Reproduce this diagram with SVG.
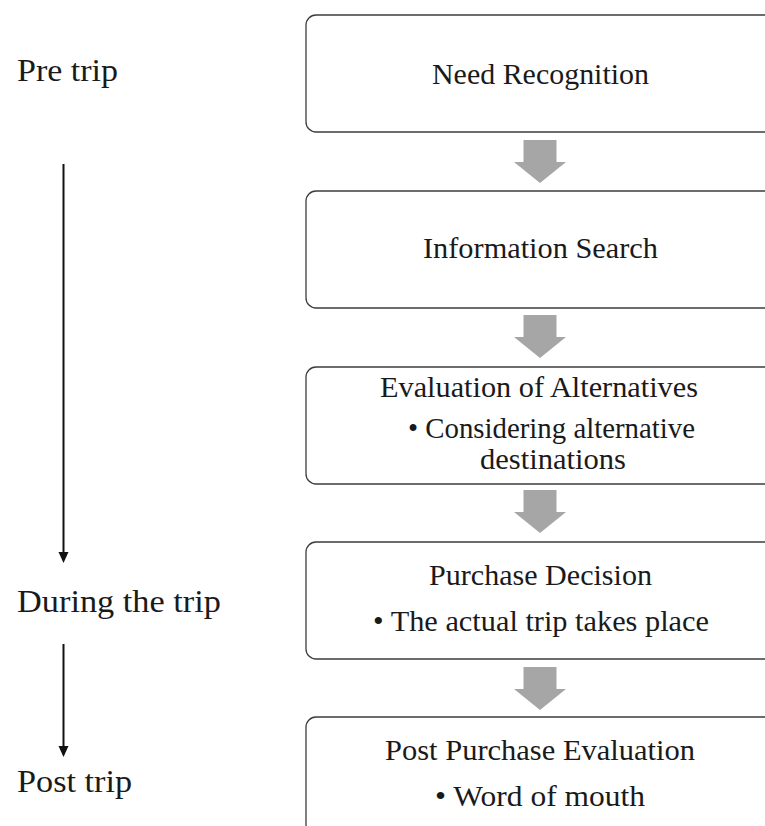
<svg xmlns="http://www.w3.org/2000/svg" width="765" height="826" viewBox="0 0 765 826">
  <style>
    .box { fill: #ffffff; stroke: #3c3c3c; stroke-width: 1.3; }
    .step { fill: #a6a6a6; }
    .txt { font-family: "Liberation Serif", "Times New Roman", serif; font-size: 29px; fill: #1a1a1a; }
    .phase { font-family: "Liberation Serif", "Times New Roman", serif; font-size: 32px; fill: #1a1a1a; }
    .time { stroke: #111111; stroke-width: 2; fill: none; }
    .timehead { fill: #111111; }
  </style>
  <defs>
    <!-- block arrow between stages, tip at (0,0) -->
    <path id="blockArrow" d="M -16.5 -43 H 16.5 V -21 H 26 L 0 0 L -26 -21 H -16.5 Z"/>
  </defs>

  <rect width="765" height="826" fill="#ffffff"/>

  <!-- phase labels on the left -->
  <g id="phase-pre">
    <text class="phase" x="17" y="81" textLength="101" lengthAdjust="spacingAndGlyphs">Pre trip</text>
  </g>
  <g id="phase-during">
    <text class="phase" x="17" y="612" textLength="204" lengthAdjust="spacingAndGlyphs">During the trip</text>
  </g>
  <g id="phase-post">
    <text class="phase" x="17" y="792" textLength="115" lengthAdjust="spacingAndGlyphs">Post trip</text>
  </g>

  <!-- stage boxes (run off the right and bottom edge) -->
  <g id="need-recognition">
    <rect class="box" x="306" y="15" width="500" height="117" rx="10"/>
    <text class="txt" x="432" y="84" textLength="217" lengthAdjust="spacingAndGlyphs">Need Recognition</text>
  </g>
  <g id="information-search">
    <rect class="box" x="306" y="191" width="500" height="117" rx="10"/>
    <text class="txt" x="423" y="258" textLength="235" lengthAdjust="spacingAndGlyphs">Information Search</text>
  </g>
  <g id="evaluation-of-alternatives">
    <rect class="box" x="306" y="367" width="500" height="117" rx="10"/>
    <text class="txt" x="380" y="397" textLength="318" lengthAdjust="spacingAndGlyphs">Evaluation of Alternatives</text>
    <text class="txt" x="408" y="438" textLength="287" lengthAdjust="spacingAndGlyphs">• Considering alternative</text>
    <text class="txt" x="480" y="469" textLength="146" lengthAdjust="spacingAndGlyphs">destinations</text>
  </g>
  <g id="purchase-decision">
    <rect class="box" x="306" y="542" width="500" height="117" rx="10"/>
    <text class="txt" x="429" y="585" textLength="223" lengthAdjust="spacingAndGlyphs">Purchase Decision</text>
    <text class="txt" x="373" y="631" textLength="336" lengthAdjust="spacingAndGlyphs">• The actual trip takes place</text>
  </g>
  <g id="post-purchase-evaluation">
    <rect class="box" x="306" y="717" width="500" height="160" rx="10"/>
    <text class="txt" x="385" y="760" textLength="310" lengthAdjust="spacingAndGlyphs">Post Purchase Evaluation</text>
    <text class="txt" x="435" y="806" textLength="210" lengthAdjust="spacingAndGlyphs">• Word of mouth</text>
  </g>

  <!-- connectors -->
  <g id="connectors">
    <use href="#blockArrow" class="step" x="540" y="183"/>
    <use href="#blockArrow" class="step" x="540" y="358"/>
    <use href="#blockArrow" class="step" x="540" y="533"/>
    <use href="#blockArrow" class="step" x="540" y="710"/>

    <!-- timeline arrows -->
    <line class="time" x1="63.5" y1="164" x2="63.5" y2="553"/>
    <polygon class="timehead" points="58.5,552 68.5,552 63.5,563"/>
    <line class="time" x1="63.5" y1="644" x2="63.5" y2="747"/>
    <polygon class="timehead" points="58.5,746 68.5,746 63.5,757"/>
  </g>
</svg>
